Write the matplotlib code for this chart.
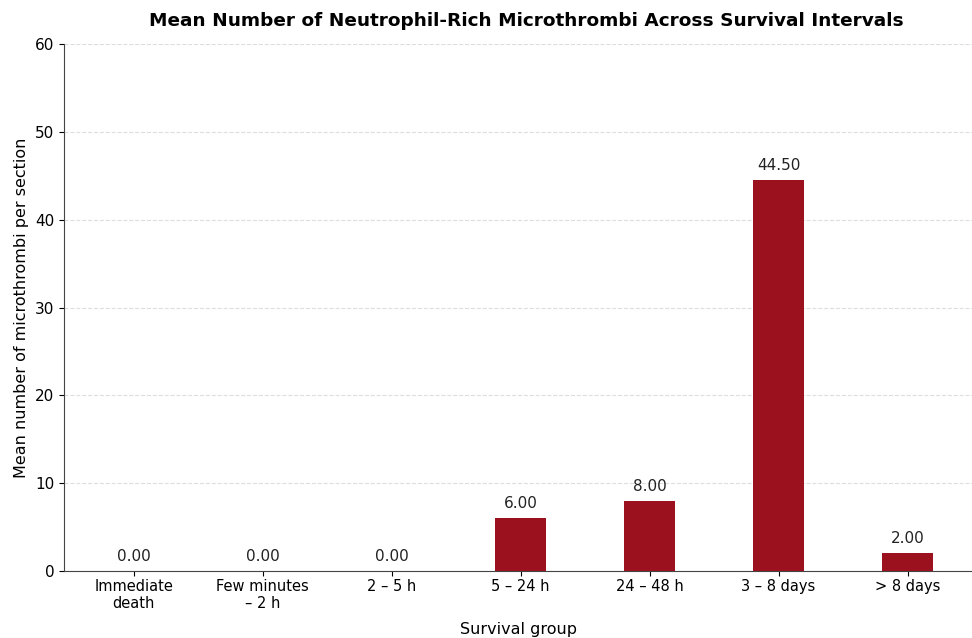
import numpy as np
from matplotlib import pyplot as plt

groups = ["Immediate\ndeath", "Few minutes\n\u2013 2 h", "2 \u2013 5 h", "5 \u2013 24 h",
          "24 \u2013 48 h", "3 \u2013 8 days", "> 8 days"]
mean_counts = [0.0, 0.0, 0.0, 6.0, 8.0, 44.5, 2.0]

bar_color = "#9b111e"

fig = plt.figure(figsize=(9.72, 6.38), dpi=100)
ax = fig.add_axes([0.066, 0.105, 0.934, 0.826])

x = np.arange(len(groups))
bars = ax.bar(x, mean_counts, width=0.4, color=bar_color, zorder=3)

# value labels above each bar
for xi, v in zip(x, mean_counts):
    ax.text(xi, v + 0.8, f"{v:.2f}", ha="center", va="bottom", fontsize=11, color="#222222")

ax.set_xlim(-0.54, 6.5)
ax.set_ylim(0, 60)
ax.set_yticks(range(0, 61, 10))
ax.set_xticks(x)
ax.set_xticklabels(groups, fontsize=10.5)
ax.tick_params(axis="x", pad=2)
ax.tick_params(axis="y", labelsize=11)
ax.yaxis.grid(True, linestyle="--", color="#dddddd", linewidth=0.8, zorder=0)
ax.set_axisbelow(True)

for s in ["top", "right"]:
    ax.spines[s].set_visible(False)
for s in ["left", "bottom"]:
    ax.spines[s].set_color("#444444")

ax.set_xlabel("Survival group", fontsize=11.5, labelpad=8)
ax.set_ylabel("Mean number of microthrombi per section", fontsize=11.5)
fig.text(0.541, 0.967, "Mean Number of Neutrophil-Rich Microthrombi Across Survival Intervals",
         ha="center", va="center", fontsize=13.3, fontweight="bold")

fig.savefig("out.png")
